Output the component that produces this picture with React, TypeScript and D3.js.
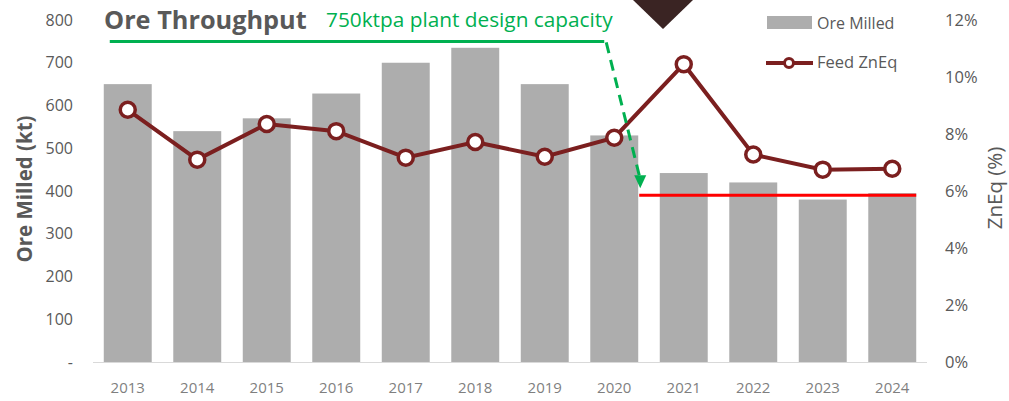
import React from "react";
import * as d3 from "d3";

const width = 1009;
const height = 401;
const margin = { top: 20, right: 82, bottom: 39, left: 93 };

const years = ["2013", "2014", "2015", "2016", "2017", "2018", "2019", "2020", "2021", "2022", "2023", "2024"];
const oreMilled = [650, 540, 570, 628, 700, 735, 650, 530, 442, 420, 380, 395];
const feedZnEq = [8.85, 7.1, 8.35, 8.1, 7.17, 7.72, 7.2, 7.87, 10.45, 7.28, 6.75, 6.78];
const leftTicks = [0, 100, 200, 300, 400, 500, 600, 700, 800];
const rightTicks = [0, 2, 4, 6, 8, 10, 12];
const designCapacity = 750;
const currentLevel = 390;

const font = "'Open Sans', 'DejaVu Sans', sans-serif";
const grey = "#595959";

const App = () => {
  const innerW = width - margin.left - margin.right;
  const x = d3.scaleBand().domain(years).range([margin.left, margin.left + innerW]).paddingInner(0.31).paddingOuter(0.155);
  const y = d3.scaleLinear().domain([0, 800]).range([height - margin.bottom, margin.top]);
  const yR = d3.scaleLinear().domain([0, 12]).range([height - margin.bottom, margin.top]);

  const cx = (yr: string) => x(yr)! + x.bandwidth() / 2;

  const line = d3
    .line<number>()
    .x((_, i) => cx(years[i]))
    .y((d) => yR(d));

  // capacity callout: solid at 750kt, then dashed arrow down to current level
  const capY = y(designCapacity);
  const capX0 = x("2013")! + 6;
  const capX1 = cx("2020") - 10;
  const arrowX = x("2020")! + x.bandwidth() + 2;
  const arrowY = y(currentLevel) - 8;

  const redX0 = arrowX - 1;
  const redX1 = x("2024")! + x.bandwidth();

  return (
    <svg width={width} height={height} style={{ position: "absolute", left: 0, top: 0 }} fontFamily={font}>
      <rect width={width} height={height} fill="#fff" />
      {oreMilled.map((v, i) => (
        <rect key={years[i]} x={x(years[i])} y={y(v)} width={x.bandwidth()} height={y(0) - y(v)} fill="#adadad" />
      ))}
      <line x1={margin.left} x2={margin.left + innerW} y1={y(0) + 0.5} y2={y(0) + 0.5} stroke="#d9d9d9" strokeWidth={1} />

      {leftTicks.map((t) => (
        <text key={t} x={73} y={y(t)} dy="0.35em" textAnchor="end" fontSize={16} fill={grey}>
          {t === 0 ? "-" : t}
        </text>
      ))}
      {rightTicks.map((t) => (
        <text key={t} x={945} y={yR(t)} dy="0.35em" textAnchor="start" fontSize={16.5} fill={grey}>
          {t}%
        </text>
      ))}
      {years.map((yr) => (
        <text key={yr} x={cx(yr)} y={393} textAnchor="middle" fontSize={15} fill="#7f7f7f">
          {yr}
        </text>
      ))}

      <text transform="translate(32,189) rotate(-90)" textAnchor="middle" fontSize={20.5} fontWeight="bold" fill={grey}>
        Ore Milled (kt)
      </text>
      <text transform="translate(1002,188) rotate(-90)" textAnchor="middle" fontSize={20.5} fill={grey}>
        ZnEq (%)
      </text>

      <line x1={redX0} x2={redX1} y1={y(currentLevel)} y2={y(currentLevel)} stroke="#ff0000" strokeWidth={3} />

      <path d={line(feedZnEq) ?? ""} fill="none" stroke="#7b1f1f" strokeWidth={4} />
      {feedZnEq.map((v, i) => (
        <circle key={years[i]} cx={cx(years[i])} cy={yR(v)} r={7.5} fill="#fff" stroke="#7b1f1f" strokeWidth={3.5} />
      ))}

      <line x1={capX0} x2={capX1} y1={capY} y2={capY} stroke="#00b050" strokeWidth={3} />
      <line x1={capX1 + 2} y1={capY + 1} x2={arrowX} y2={arrowY - 8} stroke="#00b050" strokeWidth={3} strokeDasharray="11,7" />
      <path d={`M${arrowX - 6},${arrowY - 12} L${arrowX + 6},${arrowY - 12} L${arrowX},${arrowY + 1}Z`} fill="#00b050" />
      <text x={326} y={27} fontSize={20.8} fill="#00b050">
        750ktpa plant design capacity
      </text>

      <text x={104} y={29} fontSize={25.3} fontWeight="bold" fill={grey}>
        Ore Throughput
      </text>

      <path d="M633,0 L693,0 L663,29Z" fill="#3a2423" />

      <rect x={767} y={16} width={45} height={13} fill="#adadad" />
      <text x={817} y={29} fontSize={16} fill={grey}>
        Ore Milled
      </text>
      <line x1={766} x2={813} y1={63} y2={63} stroke="#7b1f1f" strokeWidth={4} />
      <circle cx={789} cy={63} r={4.5} fill="#fff" stroke="#7b1f1f" strokeWidth={3} />
      <text x={817} y={68} fontSize={16.5} fill={grey}>
        Feed ZnEq
      </text>
    </svg>
  );
};

export default App;
